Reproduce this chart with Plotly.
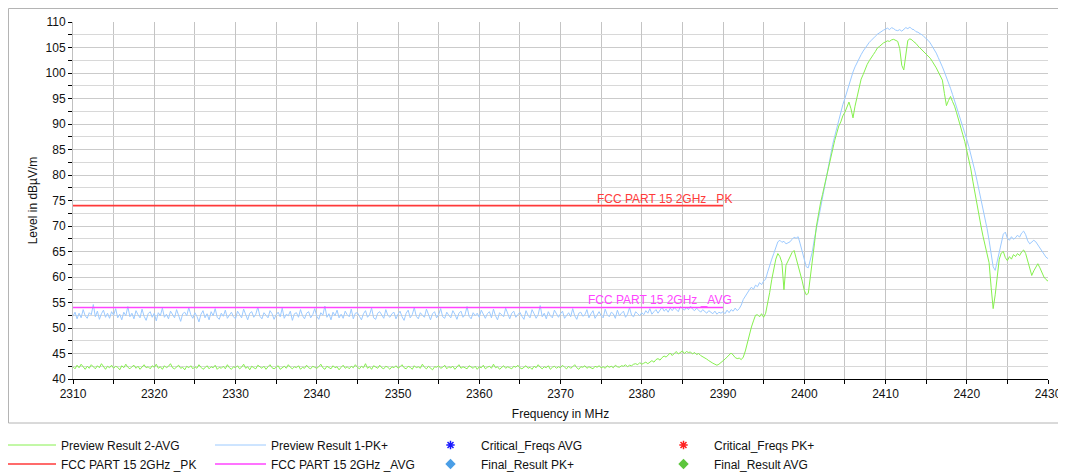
import plotly.graph_objects as go

# ---------------- data ----------------
FREQ_START = 2310.0
FREQ_STEP = 0.25   # MHz between samples

# Preview Result 1-PK+ (dBµV/m), 20 samples per 5 MHz row
pk_values = [
    52.3, 53.1, 51.8, 52.9, 52.0, 53.6, 52.4, 51.9, 53.0, 52.6, 54.6, 52.2, 53.3, 51.7, 52.8, 53.5, 52.1, 52.9, 51.9, 53.2,
    52.5, 53.8, 52.0, 52.7, 51.6, 53.1, 52.4, 54.2, 52.2, 52.9, 51.8, 53.4, 52.6, 52.0, 53.7, 52.3, 51.5, 52.8, 53.2, 52.1,
    52.9, 51.4, 53.0, 52.4, 53.9, 52.1, 52.7, 51.8, 53.3, 52.5, 52.0, 53.6, 52.2, 51.3, 52.8, 53.1, 52.4, 54.0, 52.6, 51.9,
    53.0, 52.3, 51.2, 52.7, 53.4, 52.0, 52.8, 51.6, 53.2, 52.4, 53.8, 52.1, 51.7, 52.9, 52.3, 53.5, 51.9, 52.6, 53.1, 52.2,
    51.8, 53.3, 52.5, 52.0, 53.7, 52.4, 51.6, 52.9, 53.2, 52.1, 52.7, 54.1, 52.3, 51.8, 53.0, 52.5, 52.0, 53.4, 52.8, 51.7,
    52.6, 53.1, 52.2, 53.9, 51.9, 52.7, 52.4, 53.3, 51.5, 52.8, 53.0, 52.1, 53.6, 52.4, 51.8, 52.9, 53.2, 52.0, 52.6, 53.8,
    52.3, 51.7, 53.0, 52.5, 54.3, 52.1, 52.8, 51.6, 53.1, 52.4, 53.5, 52.0, 52.7, 51.9, 53.3, 52.6, 52.2, 53.7, 51.8, 52.9,
    53.0, 52.3, 51.6, 52.8, 53.4, 52.1, 52.6, 53.9, 52.0, 51.7, 52.9, 53.2, 52.4, 51.9, 53.6, 52.5, 52.1, 52.8, 53.1, 51.8,
    52.7, 53.3, 52.2, 51.5, 52.9, 53.5, 52.0, 52.6, 54.0, 52.3, 51.8, 53.0, 52.5, 52.1, 53.7, 52.4, 51.6, 52.8, 53.2, 52.0,
    52.6, 53.8, 52.2, 51.9, 53.1, 52.5, 52.0, 53.4, 52.7, 51.7, 52.9, 53.3, 52.1, 52.6, 54.2, 52.3, 51.8, 53.0, 52.4, 52.9,
    52.1, 53.5, 52.6, 51.9, 52.8, 53.2, 52.0, 53.7, 52.4, 51.6, 53.0, 52.5, 52.2, 53.9, 52.7, 51.8, 52.9, 53.3, 52.1, 52.6,
    53.1, 52.3, 51.7, 53.4, 52.5, 52.0, 53.6, 52.8, 51.9, 52.6, 54.4, 52.2, 52.9, 51.8, 53.2, 52.4, 52.0, 53.5, 52.7, 52.1,
    52.8, 53.3, 51.9, 52.5, 53.0, 52.2, 53.8, 52.4, 51.7, 52.9, 53.1, 52.3, 52.6, 53.6, 52.0, 52.8, 53.4, 51.9, 52.5, 53.2,
    52.4, 52.0, 53.7, 52.6, 52.2, 53.1, 52.8, 51.9, 53.5, 52.4, 52.9, 53.3, 52.1, 52.7, 54.0, 52.5, 52.2, 53.2, 52.8, 52.4,
    53.0, 52.6, 53.4, 52.9, 53.8, 52.7, 53.2, 53.6, 52.9, 53.5, 54.1, 53.3, 53.7, 53.1, 53.9, 53.4, 54.0, 53.6, 53.2, 54.2,
    53.8, 53.5, 54.0, 53.6, 54.3, 53.7, 53.4, 53.9, 53.5, 53.1, 53.6, 53.2, 52.9, 53.4, 53.0, 52.8, 53.3, 52.7, 53.1, 52.9,
    53.2, 52.8, 53.5, 53.0, 53.6, 53.3, 53.9, 53.4, 53.8, 54.5, 55.6, 56.3, 56.8, 57.5, 58.0, 57.6, 58.4, 58.1, 58.9, 58.5,
    59.2, 59.6, 61.0, 62.4, 63.5, 64.6, 65.8, 66.9, 67.2, 66.8, 67.0, 66.5, 66.7, 66.9, 67.4, 67.8, 67.6, 67.9, 66.5, 64.8,
    63.2, 62.0, 61.8, 63.4, 65.0, 67.5, 69.8, 71.5, 73.5, 75.6, 77.8, 80.0, 82.0, 84.0, 86.0, 87.6, 89.3, 91.0, 92.6, 93.8,
    95.0, 96.4, 97.8, 99.0, 100.2, 101.2, 102.1, 103.0, 103.6, 104.3, 104.9, 105.5, 106.0, 106.4, 106.9, 107.2, 107.6, 107.9, 108.2, 108.4,
    108.6, 108.8, 108.5, 108.9, 108.7, 108.4, 108.3, 108.5, 108.2, 108.6, 108.9, 108.7, 109.0, 108.6, 108.5, 108.1, 108.0, 107.7, 107.5, 107.1,
    106.8, 106.4, 105.9, 105.3, 104.6, 103.9, 103.0, 102.2, 101.2, 100.2, 99.2, 98.2, 97.0, 95.8, 94.6, 93.4, 92.1, 90.8, 89.5, 88.3,
    87.0, 85.6, 84.1, 82.5, 80.8, 79.0, 77.2, 75.3, 73.4, 71.4, 69.5, 67.2, 64.8, 62.0, 61.3, 63.2, 64.6, 66.5, 68.4, 68.8,
    67.6, 67.2, 67.9, 67.4, 67.7, 68.2, 67.8, 68.6, 69.0, 68.3, 67.1, 66.5, 66.8, 67.2, 66.9, 66.3, 65.7, 65.0, 64.3, 63.9,
    63.6,
]

# Preview Result 2-AVG (dBµV/m)
avg_values = [
    42.4, 42.0, 42.7, 42.2, 42.9, 42.3, 41.9, 42.5, 42.1, 42.8, 42.3, 42.0, 42.6, 42.2, 43.0, 42.4, 41.9, 42.5, 42.2, 42.7,
    42.1, 42.5, 42.3, 41.8, 42.6, 42.2, 42.9, 42.3, 42.0, 42.4, 42.7, 42.1, 42.5, 41.9, 42.3, 42.8, 42.2, 42.4, 42.0, 42.6,
    42.3, 42.9, 42.1, 42.4, 41.9, 42.6, 42.2, 42.5, 43.0, 42.2, 42.0, 42.4, 42.7, 42.1, 42.3, 41.8, 42.5, 42.2, 42.6, 42.0,
    42.4, 42.1, 42.8, 42.3, 41.9, 42.2, 42.6, 42.0, 42.4, 42.2, 42.7, 41.9, 42.3, 42.1, 42.5, 42.0, 42.8, 42.2, 41.9, 42.4,
    42.2, 42.6, 42.0, 42.3, 42.9, 42.1, 42.4, 41.8, 42.5, 42.2, 42.0, 42.7, 42.3, 42.1, 42.5, 41.9, 42.4, 42.8, 42.2, 42.0,
    42.3, 42.6, 41.9, 42.2, 42.5, 42.1, 42.8, 42.3, 42.0, 42.4, 42.2, 42.6, 41.9, 42.3, 42.1, 42.7, 42.2, 42.0, 42.5, 42.3,
    42.1, 42.4, 42.9, 42.2, 41.9, 42.5, 42.3, 42.0, 42.6, 42.2, 42.4, 41.8, 42.3, 42.7, 42.1, 42.4, 42.0, 42.5, 42.2, 42.8,
    42.3, 42.0, 42.5, 42.2, 43.0, 42.1, 42.4, 41.9, 42.6, 42.3, 42.1, 42.7, 42.2, 42.0, 42.5, 42.3, 41.9, 42.4, 42.2, 42.6,
    42.1, 42.4, 42.8, 42.2, 42.0, 42.5, 42.3, 41.9, 42.6, 42.2, 42.4, 42.1, 42.9, 42.3, 42.0, 42.5, 42.2, 41.8, 42.4, 42.3,
    42.6, 42.1, 42.3, 42.7, 42.0, 42.4, 42.2, 42.5, 41.9, 42.3, 42.8, 42.1, 42.4, 42.2, 42.0, 42.6, 42.3, 42.1, 42.5, 41.9,
    42.4, 42.2, 42.7, 42.0, 42.3, 42.5, 42.1, 42.9, 42.2, 42.4, 41.9, 42.3, 42.6, 42.1, 42.4, 42.2, 42.0, 42.5, 42.3, 42.7,
    42.2, 42.0, 42.4, 42.6, 42.1, 42.3, 41.9, 42.5, 42.2, 42.8, 42.3, 42.0, 42.4, 42.2, 42.6, 41.9, 42.3, 42.5, 42.1, 42.4,
    42.2, 42.7, 42.3, 42.0, 42.5, 42.1, 42.4, 42.8, 42.2, 41.9, 42.4, 42.3, 42.6, 42.1, 42.4, 42.2, 42.0, 42.5, 42.3, 42.6,
    42.2, 42.4, 42.1, 42.6, 42.3, 42.5, 42.2, 42.7, 42.4, 42.3, 42.6, 42.5, 42.8, 42.4, 42.7, 42.6, 42.9, 43.0, 42.8, 43.2,
    42.9, 43.1, 43.3, 43.0, 43.4, 43.6, 43.3, 43.8, 44.0, 43.7, 44.2, 44.5, 44.3, 44.7, 45.1, 44.6, 45.0, 45.4, 44.9, 45.3,
    45.5, 45.0, 45.4, 45.2, 45.3, 44.9, 45.2, 44.8, 45.0, 44.6, 44.4, 44.1, 43.9, 43.6, 43.3, 43.1, 42.9, 42.7, 42.9, 43.2,
    43.5, 43.9, 44.3, 44.8, 45.1, 44.7, 44.2, 44.0, 44.1, 43.8, 44.3, 45.5, 47.2, 48.8, 50.2, 51.4, 52.5, 52.6, 52.2, 52.8,
    52.1, 52.9, 54.8, 57.0, 59.5, 61.8, 63.5, 64.6, 64.0, 62.8, 57.5, 62.3, 63.2, 64.1, 64.8, 65.2, 63.8, 62.5, 61.0, 59.2,
    57.4, 56.5, 56.8, 59.8, 62.7, 66.5, 70.0, 72.4, 74.5, 76.2, 78.0, 80.0, 81.8, 83.4, 85.0, 86.8, 88.2, 89.6, 90.4, 91.6,
    92.3, 93.4, 94.3, 93.0, 91.2, 93.5, 95.5, 96.8, 98.8, 99.7, 100.8, 101.7, 102.4, 103.1, 103.6, 104.2, 104.9, 105.2, 105.6, 105.9,
    106.1, 106.3, 106.2, 106.5, 106.6, 106.4, 106.2, 104.8, 101.5, 100.6, 104.0, 106.4, 106.7, 106.5, 106.1, 105.8, 105.3, 104.9, 104.6, 104.2,
    103.9, 103.4, 102.9, 102.3, 101.7, 101.0, 100.2, 99.4, 98.6, 96.0, 93.6, 94.6, 95.4, 94.4, 93.5, 92.2, 90.6, 89.4, 88.0, 86.6,
    85.0, 83.4, 81.2, 78.8, 76.4, 74.2, 72.0, 70.0, 68.0, 66.2, 64.5, 62.8, 58.0, 53.8, 56.5, 60.2, 63.5, 64.7, 65.0, 63.8,
    63.2, 64.0, 63.5, 64.4, 64.0, 64.6, 64.2, 64.9, 65.3, 64.6, 63.0, 61.5, 60.3, 61.2, 62.0, 62.6, 61.8, 60.8, 60.0, 59.5,
    59.2,
]

# Limit lines
limit_freqs = [2310, 2390]
limit_pk = [74, 74]
limit_avg = [54, 54]

pk_freqs = [FREQ_START + FREQ_STEP * i for i in range(len(pk_values))]
avg_freqs = [FREQ_START + FREQ_STEP * i for i in range(len(avg_values))]

# ---------------- styling ----------------
PAGE_OFF = 8                      # default page margin around the figure
W, H = 1066 - PAGE_OFF, 474 - PAGE_OFF
ML, MR, MT, MB = 65, 18, 14, 95
PW, PH = W - ML - MR, H - MT - MB

GREEN = "#86f04e"
BLUE = "#9ccaff"
RED = "#ff3a3a"
MAGENTA = "#ff44ff"
FONT = "Arial, Liberation Sans, sans-serif"

def px2paper_x(page_px):
    return (page_px - PAGE_OFF - ML) / PW

def px2paper_y(page_py):
    return (H - MB - (page_py - PAGE_OFF)) / PH

fig = go.Figure()

fig.add_trace(go.Scatter(x=pk_freqs, y=pk_values, mode="lines", name="Preview Result 1-PK+",
                         line=dict(color=BLUE, width=1), legend="legend2"))
fig.add_trace(go.Scatter(x=avg_freqs, y=avg_values, mode="lines", name="Preview Result 2-AVG",
                         line=dict(color=GREEN, width=1), legend="legend"))
fig.add_trace(go.Scatter(x=limit_freqs, y=limit_pk, mode="lines", name="FCC PART 15 2GHz _PK",
                         line=dict(color=RED, width=1.6), legend="legend"))
fig.add_trace(go.Scatter(x=limit_freqs, y=limit_avg, mode="lines", name="FCC PART 15 2GHz _AVG",
                         line=dict(color=MAGENTA, width=1.5), legend="legend2"))
fig.add_trace(go.Scatter(x=[None], y=[None], mode="markers", name="Critical_Freqs AVG",
                         marker=dict(symbol="asterisk", size=7, color="#1a1aff",
                                     line=dict(color="#1a1aff", width=1.5)), legend="legend3"))
fig.add_trace(go.Scatter(x=[None], y=[None], mode="markers", name="Final_Result PK+",
                         marker=dict(symbol="diamond", size=8, color="#4a9ee6"), legend="legend3"))
fig.add_trace(go.Scatter(x=[None], y=[None], mode="markers", name="Critical_Freqs PK+",
                         marker=dict(symbol="asterisk", size=7, color="#ff2020",
                                     line=dict(color="#ff2020", width=1.5)), legend="legend4"))
fig.add_trace(go.Scatter(x=[None], y=[None], mode="markers", name="Final_Result AVG",
                         marker=dict(symbol="diamond", size=8, color="#5cc63c"), legend="legend4"))

# limit labels
fig.add_annotation(x=limit_freqs[1], y=limit_pk[0], xref="x", yref="y", text="FCC PART 15 2GHz _PK",
                   showarrow=False, xanchor="right", yanchor="bottom", xshift=11, yshift=-2,
                   font=dict(family=FONT, size=12, color=RED))
fig.add_annotation(x=limit_freqs[1], y=limit_avg[0], xref="x", yref="y", text="FCC PART 15 2GHz _AVG",
                   showarrow=False, xanchor="right", yanchor="bottom", xshift=11, yshift=-1,
                   font=dict(family=FONT, size=12, color=MAGENTA))

# outer frame
fig.add_shape(type="rect", xref="paper", yref="paper",
              x0=px2paper_x(8.5), x1=px2paper_x(1060), y0=px2paper_y(423), y1=px2paper_y(8.5),
              line=dict(color="#b4b4b4", width=1), fillcolor="rgba(0,0,0,0)", layer="below")

leg_common = dict(orientation="v", xanchor="left", yanchor="top", bgcolor="rgba(0,0,0,0)",
                  borderwidth=0, itemwidth=51, tracegroupgap=0, traceorder="normal",
                  font=dict(family=FONT, size=12, color="#111111"))
leg_y = px2paper_y(430.5)

fig.update_layout(
    width=W, height=H,
    margin=dict(l=ML, r=MR, t=MT, b=MB, autoexpand=False),
    paper_bgcolor="white", plot_bgcolor="white",
    font=dict(family=FONT, size=12, color="#111111"),
    showlegend=True,
    legend=dict(x=px2paper_x(0), y=leg_y, **leg_common),
    legend2=dict(x=px2paper_x(210), y=leg_y, **leg_common),
    legend3=dict(x=px2paper_x(420), y=leg_y, **leg_common),
    legend4=dict(x=px2paper_x(653), y=leg_y, **leg_common),
    xaxis=dict(
        range=[2310, 2430], dtick=10, tick0=2310, automargin=False,
        showgrid=True, gridcolor="#c4c4c4", gridwidth=1,
        ticks="outside", ticklen=4, tickcolor="#000000",
        showline=True, linecolor="#000000", linewidth=1,
        tickfont=dict(family=FONT, size=12, color="#111111"),
        minor=dict(dtick=5, showgrid=True, gridcolor="#c4c4c4", ticks="outside", ticklen=4, tickcolor="#000000"),
        title=dict(text="Frequency in MHz", standoff=9, font=dict(family=FONT, size=12, color="#111111")),
        zeroline=False,
    ),
    yaxis=dict(
        range=[40, 110], dtick=5, tick0=40, automargin=False,
        showgrid=True, gridcolor="#cbcbcb", gridwidth=1,
        ticks="outside", ticklen=4, tickcolor="#000000",
        showline=True, linecolor="#c0c0c0", linewidth=1,
        tickfont=dict(family=FONT, size=12, color="#111111"),
        minor=dict(dtick=2.5, showgrid=True, gridcolor="#d8d8d8", ticks="outside", ticklen=4, tickcolor="#000000"),
        title=dict(text="Level in dBµV/m", standoff=5, font=dict(family=FONT, size=12, color="#111111")),
        zeroline=False,
    ),
)

fig.write_html("out.html")
